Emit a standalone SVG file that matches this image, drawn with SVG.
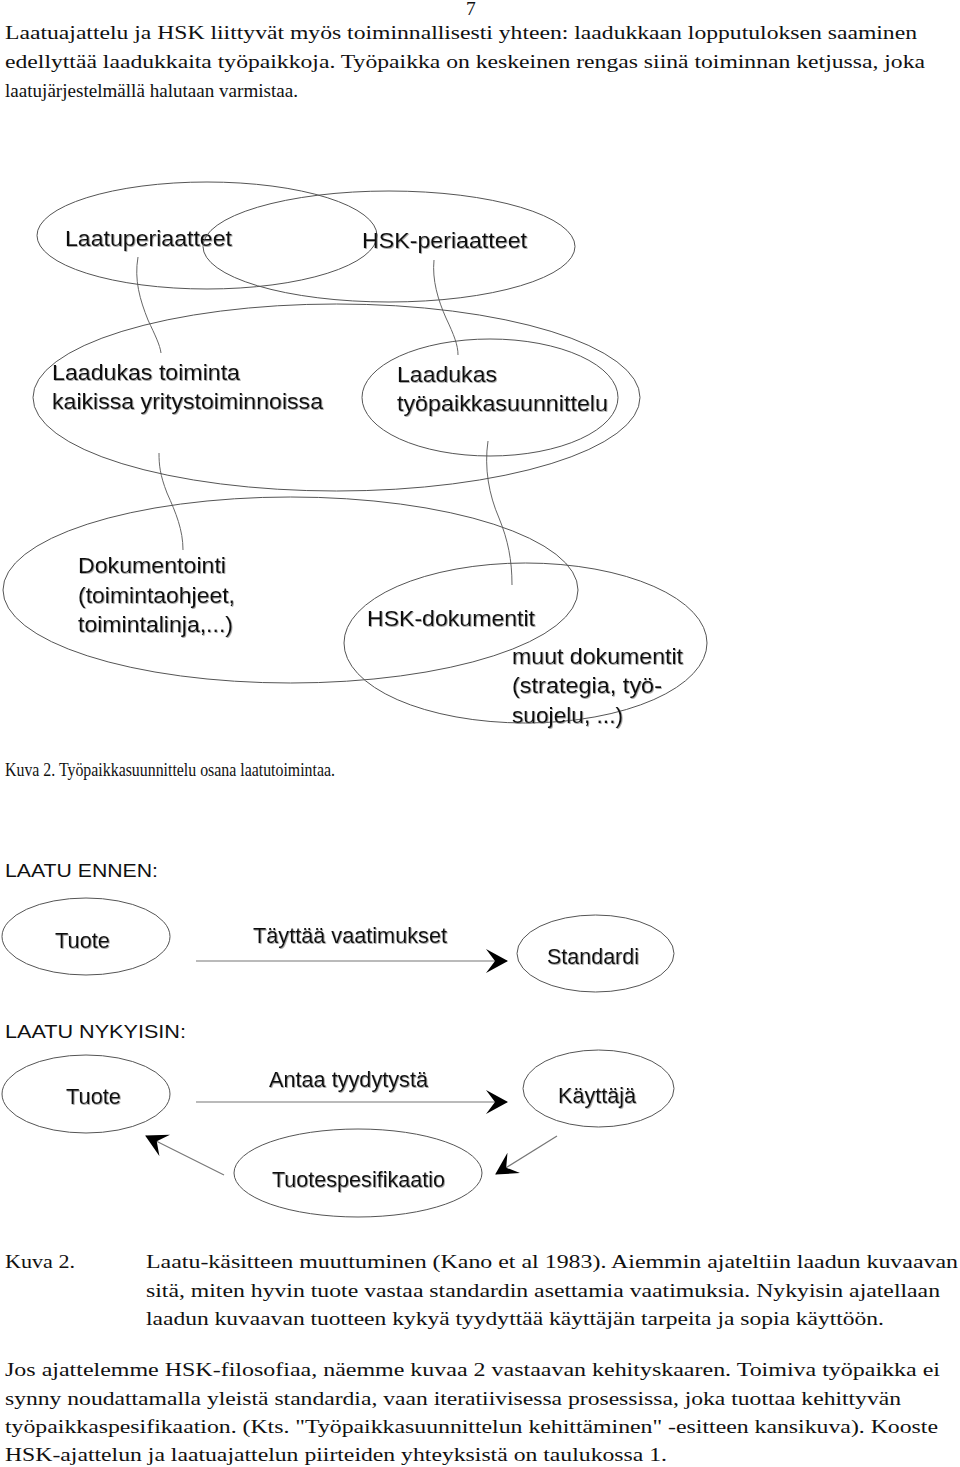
<svg xmlns="http://www.w3.org/2000/svg" width="960" height="1467" viewBox="0 0 960 1467">
<style>
.body{font-family:"Liberation Serif","Times New Roman",serif;font-size:19.5px;fill:#111}
.lbl{font-family:"Liberation Sans",Arial,sans-serif;font-size:22.5px;fill:#111;filter:url(#sh)}
.lbl2{font-family:"Liberation Sans",Arial,sans-serif;font-size:21.5px;fill:#111;filter:url(#sh)}
.hd{font-family:"Liberation Sans",Arial,sans-serif;font-size:19px;fill:#111}
.ell{fill:none;stroke:#555;stroke-width:1}
.con{fill:none;stroke:#666;stroke-width:1}
.arr{fill:none;stroke:#777;stroke-width:1.2}
</style>
<defs>
<filter id="sh" x="-5%" y="-20%" width="110%" height="140%">
<feDropShadow dx="0.8" dy="0.8" stdDeviation="0.4" flood-color="#777" flood-opacity="0.8"/>
</filter>
<marker id="ah" markerUnits="userSpaceOnUse" markerWidth="22" markerHeight="24" viewBox="0 0 22 24" refX="21" refY="12" orient="auto">
<path d="M0,0 L22,12 L0,24 L9,12 Z" fill="#000"/>
</marker>
</defs>
<rect width="960" height="1467" fill="#fff"/>

<g id="header-text">
<text class="body" x="466" y="15">7</text>
<text class="body" x="5" y="39" textLength="912" lengthAdjust="spacingAndGlyphs">Laatuajattelu ja HSK liittyvät myös toiminnallisesti yhteen: laadukkaan lopputuloksen saaminen</text>
<text class="body" x="5" y="68" textLength="920" lengthAdjust="spacingAndGlyphs">edellyttää laadukkaita työpaikkoja. Työpaikka on keskeinen rengas siinä toiminnan ketjussa, joka</text>
<text class="body" x="5" y="97" textLength="293" lengthAdjust="spacingAndGlyphs">laatujärjestelmällä halutaan varmistaa.</text>
</g>

<g id="connectors-top">
<path class="con" d="M138,257 C134,280 140,300 148,320 C155,335 160,345 161,353"/>
<path class="con" d="M434,260 C432,280 438,300 446,318 C454,335 458,345 458,355"/>
<path class="con" d="M159,453 C159,465 160,475 167,493 C176,513 183,530 183,550"/>
<path class="con" d="M488,441 C484,468 489,495 499,518 C508,540 512,560 512,585"/>
</g>

<g id="node-laatuperiaatteet">
<ellipse class="ell" cx="207" cy="235.5" rx="170" ry="53.5"/>
<text class="lbl" x="65" y="246" textLength="167" lengthAdjust="spacingAndGlyphs">Laatuperiaatteet</text>
</g>
<g id="node-hsk-periaatteet">
<ellipse class="ell" cx="389" cy="246.5" rx="186" ry="55.5"/>
<text class="lbl" x="362" y="248" textLength="165" lengthAdjust="spacingAndGlyphs">HSK-periaatteet</text>
</g>
<g id="node-laadukas-toiminta">
<ellipse class="ell" cx="336.5" cy="397.5" rx="303.5" ry="93.5"/>
<text class="lbl" x="52" y="380" textLength="188" lengthAdjust="spacingAndGlyphs">Laadukas toiminta</text>
<text class="lbl" x="52" y="409" textLength="271" lengthAdjust="spacingAndGlyphs">kaikissa yritystoiminnoissa</text>
</g>
<g id="node-laadukas-tyopaikkasuunnittelu">
<ellipse class="ell" cx="490" cy="397.5" rx="128" ry="58.5"/>
<text class="lbl" x="397" y="382" textLength="100" lengthAdjust="spacingAndGlyphs">Laadukas</text>
<text class="lbl" x="397" y="411" textLength="211" lengthAdjust="spacingAndGlyphs">työpaikkasuunnittelu</text>
</g>
<g id="node-dokumentointi">
<ellipse class="ell" cx="290.5" cy="590" rx="287.5" ry="93"/>
<text class="lbl" x="78" y="573" textLength="148" lengthAdjust="spacingAndGlyphs">Dokumentointi</text>
<text class="lbl" x="78" y="603" textLength="157" lengthAdjust="spacingAndGlyphs">(toimintaohjeet,</text>
<text class="lbl" x="78" y="632" textLength="155" lengthAdjust="spacingAndGlyphs">toimintalinja,...)</text>
</g>
<g id="node-hsk-dokumentit">
<ellipse class="ell" cx="525.5" cy="643" rx="181.5" ry="80"/>
<text class="lbl" x="367" y="626" textLength="168" lengthAdjust="spacingAndGlyphs">HSK-dokumentit</text>
</g>
<g id="label-muut-dokumentit">
<text class="lbl" x="512" y="664" textLength="171" lengthAdjust="spacingAndGlyphs">muut dokumentit</text>
<text class="lbl" x="512" y="693" textLength="150" lengthAdjust="spacingAndGlyphs">(strategia, työ-</text>
<text class="lbl" x="512" y="723" textLength="111" lengthAdjust="spacingAndGlyphs">suojelu, ...)</text>
</g>

<text class="body" x="5" y="776" textLength="330" lengthAdjust="spacingAndGlyphs">Kuva 2. Työpaikkasuunnittelu osana laatutoimintaa.</text>

<text class="hd" x="5" y="877" textLength="153" lengthAdjust="spacingAndGlyphs">LAATU ENNEN:</text>
<text class="hd" x="5" y="1038" textLength="181" lengthAdjust="spacingAndGlyphs">LAATU NYKYISIN:</text>

<g id="connectors-bottom">
<line class="arr" x1="196" y1="961" x2="507" y2="961" marker-end="url(#ah)"/>
<line class="arr" x1="196" y1="1102" x2="507" y2="1102" marker-end="url(#ah)"/>
<line class="arr" x1="557" y1="1136" x2="496" y2="1174" marker-end="url(#ah)"/>
<line class="arr" x1="224" y1="1175" x2="146" y2="1136" marker-end="url(#ah)"/>
<text class="lbl2" x="253" y="943" textLength="194" lengthAdjust="spacingAndGlyphs">Täyttää vaatimukset</text>
<text class="lbl2" x="269" y="1087" textLength="159" lengthAdjust="spacingAndGlyphs">Antaa tyydytystä</text>
</g>

<g id="node-tuote-1">
<ellipse class="ell" cx="86" cy="936.5" rx="84" ry="38.5"/>
<text class="lbl2" x="55" y="948" textLength="55" lengthAdjust="spacingAndGlyphs">Tuote</text>
</g>
<g id="node-standardi">
<ellipse class="ell" cx="595.5" cy="953.5" rx="78.5" ry="38.5"/>
<text class="lbl2" x="547" y="964" textLength="92" lengthAdjust="spacingAndGlyphs">Standardi</text>
</g>
<g id="node-tuote-2">
<ellipse class="ell" cx="86" cy="1094" rx="84" ry="39"/>
<text class="lbl2" x="66" y="1104" textLength="55" lengthAdjust="spacingAndGlyphs">Tuote</text>
</g>
<g id="node-kayttaja">
<ellipse class="ell" cx="598.5" cy="1088.5" rx="75.5" ry="38.5"/>
<text class="lbl2" x="558" y="1103" textLength="78" lengthAdjust="spacingAndGlyphs">Käyttäjä</text>
</g>
<g id="node-tuotespesifikaatio">
<ellipse class="ell" cx="358" cy="1173" rx="124" ry="44"/>
<text class="lbl2" x="272" y="1187" textLength="173" lengthAdjust="spacingAndGlyphs">Tuotespesifikaatio</text>
</g>

<g id="footer-text">
<text class="body" x="5" y="1268" textLength="70" lengthAdjust="spacingAndGlyphs">Kuva 2.</text>
<text class="body" x="146" y="1268" textLength="812" lengthAdjust="spacingAndGlyphs">Laatu-käsitteen muuttuminen (Kano et al 1983).  Aiemmin ajateltiin laadun kuvaavan</text>
<text class="body" x="146" y="1297" textLength="794" lengthAdjust="spacingAndGlyphs">sitä, miten hyvin tuote vastaa standardin asettamia vaatimuksia. Nykyisin ajatellaan</text>
<text class="body" x="146" y="1325" textLength="738" lengthAdjust="spacingAndGlyphs">laadun kuvaavan tuotteen kykyä tyydyttää käyttäjän tarpeita ja sopia käyttöön.</text>
<text class="body" x="5" y="1376" textLength="935" lengthAdjust="spacingAndGlyphs">Jos ajattelemme HSK-filosofiaa, näemme kuvaa 2 vastaavan kehityskaaren. Toimiva työpaikka ei</text>
<text class="body" x="5" y="1405" textLength="896" lengthAdjust="spacingAndGlyphs">synny noudattamalla yleistä standardia, vaan iteratiivisessa prosessissa, joka tuottaa kehittyvän</text>
<text class="body" x="5" y="1433" textLength="933" lengthAdjust="spacingAndGlyphs">työpaikkaspesifikaation. (Kts. "Työpaikkasuunnittelun kehittäminen" -esitteen kansikuva). Kooste</text>
<text class="body" x="5" y="1461" textLength="662" lengthAdjust="spacingAndGlyphs">HSK-ajattelun ja laatuajattelun piirteiden yhteyksistä on taulukossa 1.</text>
</g>
</svg>
